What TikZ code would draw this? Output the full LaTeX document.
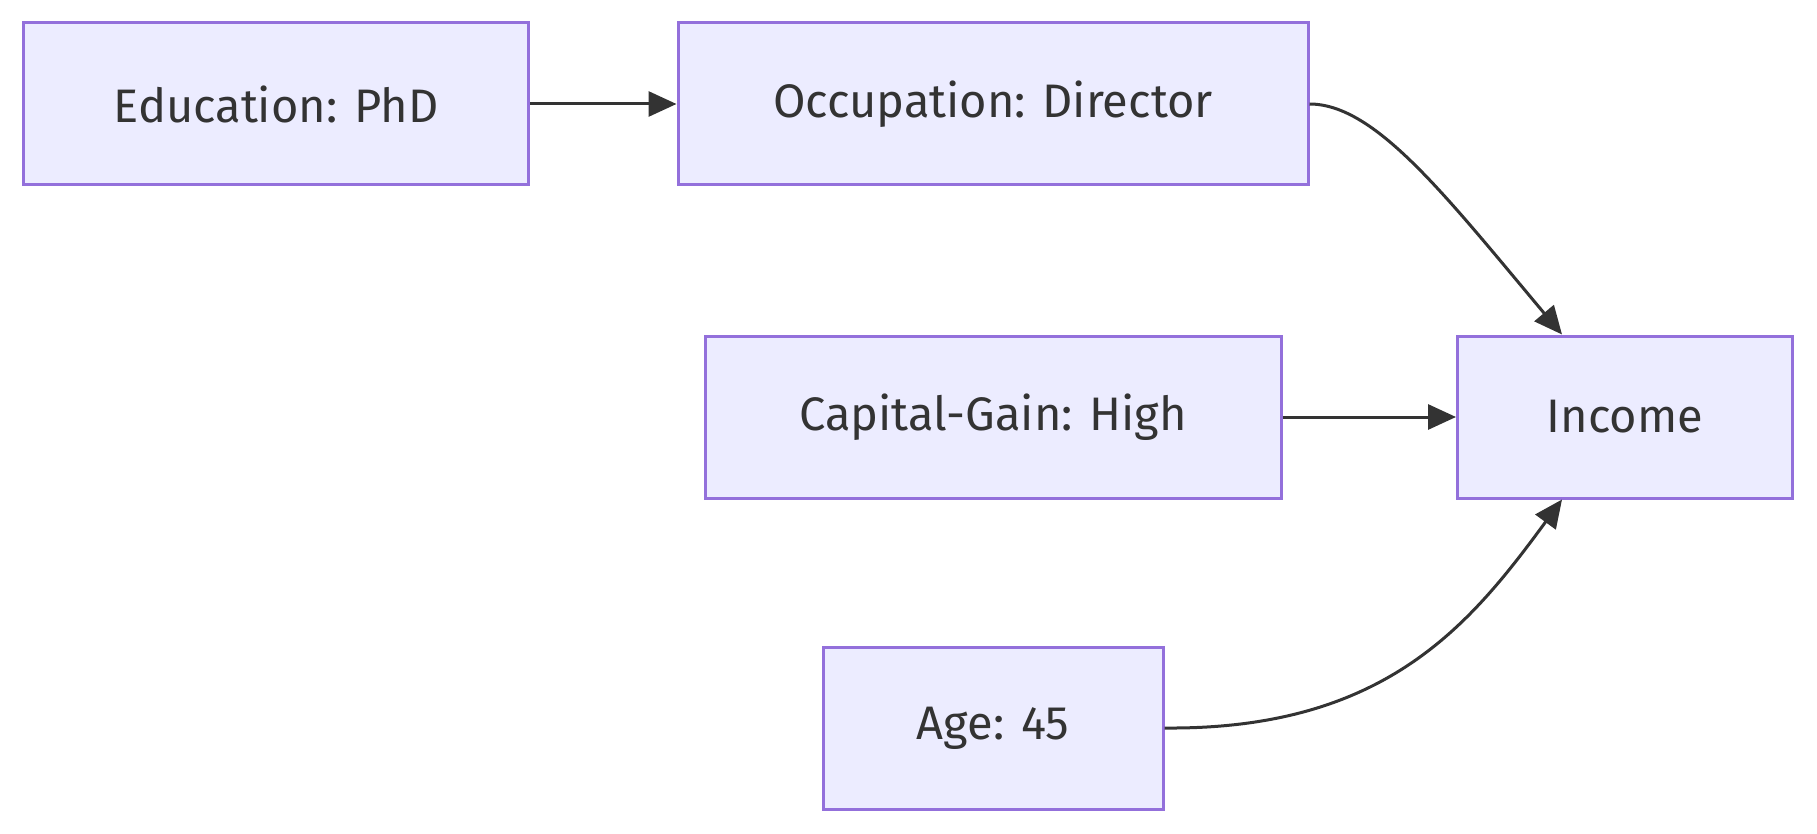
\documentclass[tikz,border=0pt]{standalone}
\usepackage{fontspec}
\setmainfont{Fira Sans}
\usetikzlibrary{arrows.meta}
\definecolor{boxfill}{HTML}{ECECFF}
\definecolor{boxline}{HTML}{9370DB}
\definecolor{ink}{HTML}{333333}
\tikzset{
  box/.style={rectangle, draw=boxline, fill=boxfill, line width=3pt, inner sep=0pt,
    minimum height=162pt, text=ink, font=\fontsize{47}{56}\selectfont},
  conn/.style={draw=ink, line width=3pt, -{Triangle[length=28pt,width=25pt]}}
}
\begin{document}
\begin{tikzpicture}[x=1pt,y=-1pt]
\useasboundingbox (0,0) rectangle (1817,834);
\node[box, minimum width=505pt] (edu) at (276,104) {Education: PhD};
\node[box, minimum width=630pt] (occ) at (993,104) {Occupation: Director};
\node[box, minimum width=576pt] (cap) at (993,417) {Capital-Gain: High};
\node[box, minimum width=335pt] (inc) at (1625,417) {Income};
\node[box, minimum width=340pt] (age) at (993,728) {Age: 45};
\draw[conn] (edu.east) -- (occ.west);
\draw[conn] (cap.east) -- (inc.west);
\draw[conn] (occ.east) .. controls (1375,104) and (1445,195) .. ([xshift=-63pt]inc.north);
\draw[conn] (age.east) .. controls (1385,730) and (1470,625) .. ([xshift=-63pt]inc.south);
\end{tikzpicture}
\end{document}
